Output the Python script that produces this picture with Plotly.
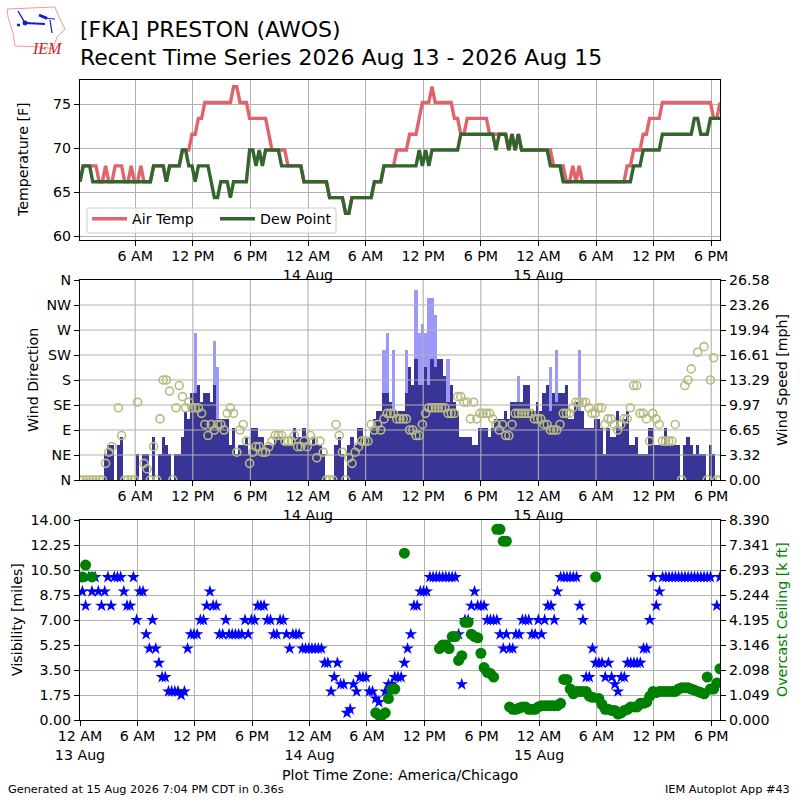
#!/usr/bin/env python3
"""IEM autoplot 43: recent time series for FKA."""

import pandas as pd
import plotly.graph_objects as go

N = None

# 20 minute AWOS observations, 13 Aug 00:15 to 15 Aug 18:55
times = pd.date_range("2026-08-13 00:15", periods=201, freq="20min")

air_temp = [
    66.2, 68, 68, 68, 68, 68, 66.2, 66.2, 68, 66.2,
    66.2, 68, 68, 68, 66.2, 66.2, 68, 66.2, 66.2, 68,
    66.2, 66.2, 66.2, 68, 68, 68, 68, 66.2, 68, 68,
    68, 68, 69.8, 69.8, 69.8, 71.6, 71.6, 73.4, 73.4, 75.2,
    75.2, 75.2, 75.2, 75.2, 75.2, 75.2, 75.2, 75.2, 77, 77,
    75.2, 75.2, 75.2, 73.4, 73.4, 73.4, 73.4, 73.4, 73.4, 71.6,
    69.8, 69.8, 69.8, 69.8, 69.8, 68, 68, 68, 68, 68,
    66.2, 66.2, 66.2, 66.2, 66.2, 66.2, 66.2, 66.2, 64.4, 64.4,
    64.4, 64.4, 64.4, 62.6, 62.6, 64.4, 64.4, 64.4, 64.4, 64.4,
    64.4, 64.4, 66.2, 66.2, 66.2, 68, 68, 68, 68, 69.8,
    69.8, 69.8, 69.8, 71.6, 71.6, 71.6, 73.4, 75.2, 75.2, 75.2,
    77, 75.2, 75.2, 75.2, 75.2, 75.2, 75.2, 73.4, 73.4, 71.6,
    71.6, 73.4, 73.4, 73.4, 73.4, 73.4, 73.4, 73.4, 71.6, 71.6,
    71.6, 71.6, 71.6, 71.6, 69.8, 71.6, 69.8, 71.6, 69.8, 69.8,
    69.8, 69.8, 69.8, 69.8, 69.8, 69.8, 69.8, 69.8, 68, 68,
    68, 68, 66.2, 66.2, 68, 66.2, 68, 66.2, 66.2, 66.2,
    66.2, 66.2, 66.2, 66.2, 66.2, 66.2, 66.2, 66.2, 66.2, 66.2,
    66.2, 68, 68, 69.8, 69.8, 69.8, 71.6, 71.6, 73.4, 73.4,
    73.4, 73.4, 75.2, 75.2, 75.2, 75.2, 75.2, 75.2, 75.2, 75.2,
    75.2, 75.2, 75.2, 75.2, 75.2, 75.2, 75.2, 75.2, 73.4, 73.4,
    75.2,
]
dew_point = [
    66.2, 68, 68, 68, 66.2, 66.2, 66.2, 66.2, 66.2, 66.2,
    66.2, 66.2, 66.2, 66.2, 66.2, 66.2, 66.2, 66.2, 66.2, 66.2,
    66.2, 66.2, 66.2, 68, 68, 68, 68, 66.2, 68, 68,
    68, 68, 69.8, 69.8, 68, 68, 66.2, 68, 68, 68,
    68, 66.2, 64.4, 64.4, 66.2, 66.2, 66.2, 64.4, 66.2, 66.2,
    66.2, 66.2, 66.2, 69.8, 69.8, 68, 69.8, 68, 69.8, 69.8,
    69.8, 69.8, 69.8, 68, 68, 68, 68, 68, 68, 68,
    66.2, 66.2, 66.2, 66.2, 66.2, 66.2, 66.2, 66.2, 64.4, 64.4,
    64.4, 64.4, 64.4, 62.6, 62.6, 64.4, 64.4, 64.4, 64.4, 64.4,
    64.4, 64.4, 66.2, 66.2, 66.2, 68, 68, 68, 68, 68,
    68, 68, 68, 68, 68, 68, 69.8, 68, 69.8, 68,
    69.8, 69.8, 69.8, 69.8, 69.8, 69.8, 69.8, 69.8, 69.8, 71.6,
    71.6, 71.6, 71.6, 71.6, 71.6, 71.6, 71.6, 71.6, 71.6, 71.6,
    69.8, 71.6, 71.6, 71.6, 69.8, 71.6, 69.8, 71.6, 69.8, 69.8,
    69.8, 69.8, 69.8, 69.8, 69.8, 69.8, 69.8, 68, 68, 68,
    68, 66.2, 66.2, 66.2, 66.2, 66.2, 66.2, 66.2, 66.2, 66.2,
    66.2, 66.2, 66.2, 66.2, 66.2, 66.2, 66.2, 66.2, 66.2, 66.2,
    66.2, 66.2, 66.2, 68, 68, 68, 69.8, 69.8, 69.8, 69.8,
    69.8, 69.8, 71.6, 71.6, 71.6, 71.6, 71.6, 71.6, 71.6, 71.6,
    71.6, 71.6, 73.4, 73.4, 71.6, 71.6, 71.6, 73.4, 73.4, 73.4,
    73.4,
]
# knots
wind_speed = [
    0, 0, 0, 0, 0, 0, 0, 0, 3, 4,
    4, 0, 4, 5, 0, 0, 0, 0, 3, 0,
    3, 3, 0, 5, 0, 3, 5, 4, 3, 0,
    3, 3, 5, 8, 7, 10, 10, 11, 9, 10,
    10, 9, 11, 7, 7, 7, 7, 4, 6, 3,
    4, 4, 5, 3, 6, 6, 5, 5, 4, 4,
    4, 5, 5, 5, 4, 4, 4, 6, 5, 5,
    6, 5, 4, 5, 4, 4, 3, 0, 0, 0,
    4, 5, 3, 0, 4, 5, 4, 6, 6, 4,
    5, 6, 7, 8, 8, 10, 10, 9, 8, 8,
    8, 8, 10, 13, 11, 14, 11, 11, 13, 11,
    14, 13, 14, 14, 12, 9, 11, 9, 8, 5,
    5, 5, 5, 4, 4, 6, 6, 6, 5, 6,
    7, 7, 7, 8, 7, 9, 9, 9, 9, 11,
    11, 8, 8, 9, 8, 10, 11, 8, 10, 9,
    10, 10, 11, 7, 7, 9, 8, 8, 6, 6,
    6, 7, 7, 6, 3, 6, 5, 5, 8, 6,
    7, 8, 4, 4, 5, 3, 3, 3, 6, 6,
    4, 4, 4, 6, 4, 4, 4, 4, 0, 4,
    5, 4, 3, 4, 3, 3, 0, 4, 3, 0,
    0,
]
wind_gust = [
    0, 0, 0, 0, 0, 0, 0, 0, 0, 0,
    0, 0, 0, 0, 0, 0, 0, 0, 0, 0,
    0, 0, 0, 0, 0, 0, 0, 0, 0, 0,
    0, 0, 0, 0, 0, 0, 17, 0, 0, 0,
    0, 0, 16, 13, 0, 0, 0, 0, 0, 0,
    0, 0, 0, 0, 0, 0, 0, 0, 0, 0,
    0, 0, 0, 0, 0, 0, 0, 0, 0, 0,
    0, 0, 0, 0, 0, 0, 0, 0, 0, 0,
    0, 0, 0, 0, 0, 0, 0, 0, 0, 0,
    0, 0, 0, 0, 0, 15, 17, 0, 15, 0,
    0, 0, 15, 0, 0, 22, 17, 18, 17, 21,
    21, 19, 0, 0, 0, 14, 0, 0, 0, 0,
    0, 0, 0, 0, 0, 0, 0, 0, 0, 0,
    0, 0, 0, 0, 0, 0, 0, 12, 0, 0,
    0, 0, 0, 0, 0, 0, 0, 13, 0, 15,
    0, 0, 0, 0, 0, 0, 15, 0, 0, 0,
    0, 0, 0, 0, 0, 0, 0, 0, 0, 0,
    0, 0, 0, 0, 0, 0, 0, 0, 0, 0,
    0, 0, 0, 0, 0, 0, 0, 0, 0, 0,
    0, 0, 0, 0, 0, 0, 0, 0, 0, 0,
    0,
]
wind_dir = [
    0, 0, 0, 0, 0, 0, 0, 0, 30, 50,
    60, N, 130, 80, 0, 0, 0, 0, 140, N,
    30, 20, 0, 60, 0, 110, 180, 180, 160, 0,
    130, 170, 150, 130, 140, 130, 130, 130, 120, 100,
    80, 100, 90, 100, 100, 90, 120, 130, 120, 50,
    90, 100, 70, 30, 50, 60, 60, 50, 50, 60,
    70, 80, 80, 80, 70, 70, 70, 80, 60, 60,
    70, 60, 80, 70, 40, 70, 50, 0, 0, 0,
    100, 80, 50, 0, 40, 30, 50, 60, 70, 70,
    70, 100, 90, 100, 90, 110, 120, 120, 120, 110,
    110, 110, 110, 90, 90, 80, 80, 100, 120, 130,
    130, 130, 130, 130, 130, 120, 120, 120, 150, 150,
    140, 140, 110, 140, 110, 120, 120, 120, 120, 110,
    100, 90, 100, 80, 80, 100, 120, 120, 120, 120,
    120, 120, 110, 110, 110, 100, 100, 90, 90, 90,
    100, 120, 120, 120, 130, 140, 140, 140, 140, 130,
    120, 120, 130, 130, 100, 110, 110, 100, 90, 100,
    110, 110, 130, 170, 170, 120, 120, 110, 70, 120,
    110, 100, 70, 70, 70, 70, 100, N, 0, 170,
    180, 200, N, 230, N, 240, 0, 180, 220, 0,
    0,
]
visibility = [
    9, 8, 10, 9, 10, 9, 8, 9, 10, 8,
    10, 10, 10, 9, 8, 8, 10, 7, 9, 9,
    6, 5, 7, 5, 4, 3, 3, 2, 2, 2,
    2, 1.75, 2, 5, 6, 6, 6, 7, 7, 8,
    9, 8, 8, 6, 6, 7, 6, 6, 6, 6,
    6, 7, 6, 7, 7, 8, 8, 8, 7, 7,
    6, 6, 7, 7, 6, 5, 6, 6, 6, 5,
    5, 5, 5, 5, 5, 5, 4, 4, 2, 3,
    4, 2.5, 2.5, 0.5, 0.75, 2.5, 2, 3, 3, 3,
    2, 2, 1.5, 1.25, N, 2, 2.5, 2.5, 3, 3,
    3, 4, 5, 6, 8, 8, 9, 9, 9, 10,
    10, 10, 10, 10, 10, 10, 10, 10, 6, 2.5,
    7, 7, 8, 9, 8, 8, 8, 7, 7, 7,
    7, 6, 5, 6, 5, 5, 6, 6, 7, 7,
    7, 6, 6, 7, 6, 7, 8, 8, 7, 9,
    10, 10, 10, 10, 10, 10, 8, 7, 3, 3,
    5, 4, 4, 4, 3, 4, 3, 2.5, 2, 3,
    3, 4, 4, 4, 4, 4, 5, 5, 7, 10,
    8, 9, 10, 10, 10, 10, 10, 10, 10, 10,
    10, 10, 10, 10, 10, 10, 10, 10, N, 8,
    10,
]
ceiling = [
    6.0, 6.5, N, 6.0, N, N, N, N, N, N,
    N, N, N, N, N, N, N, N, N, N,
    N, N, N, N, N, N, N, N, N, N,
    N, N, N, N, N, N, N, N, N, N,
    N, N, N, N, N, N, N, N, N, N,
    N, N, N, N, N, N, N, N, N, N,
    N, N, N, N, N, N, N, N, N, N,
    N, N, N, N, N, N, N, N, N, N,
    N, N, N, N, N, N, N, N, N, N,
    N, N, 0.3, 0.2, 0.2, 0.3, 0.9, 1.3, 1.3, N,
    N, 7.0, N, N, N, N, N, N, N, N,
    N, N, 3.0, 3.15, 3.15, 3.0, 3.5, 3.5, 2.5, 2.7,
    4.1, 4.1, 3.6, 3.5, 3.45, 2.8, 2.2, 2.0, 1.95, 1.8,
    8.0, 8.0, 7.5, 7.5, 0.55, 0.45, 0.45, 0.5, 0.55, 0.55,
    0.45, 0.45, 0.45, 0.55, 0.6, 0.6, 0.6, 0.6, 0.6, 0.6,
    0.7, 1.7, 1.7, 1.3, 1.1, 1.2, 1.2, 1.2, 1.2, 1.0,
    0.95, 6.0, 0.9, 0.65, 0.45, 0.45, 0.4, 0.4, 0.25, 0.3,
    0.4, 0.45, 0.55, 0.55, 0.55, 0.7, 0.7, 0.75, 1.0, 1.2,
    1.15, 1.2, 1.2, 1.2, 1.2, 1.2, 1.2, 1.3, 1.35, 1.35,
    1.35, 1.3, 1.25, 1.2, 1.15, 1.1, 1.8, 1.3, 1.3, 1.55,
    2.15,
]

time_ticks = [
    "2026-08-13 06:00", "2026-08-13 12:00", "2026-08-13 18:00",
    "2026-08-14 00:00", "2026-08-14 06:00", "2026-08-14 12:00", "2026-08-14 18:00",
    "2026-08-15 00:00", "2026-08-15 06:00", "2026-08-15 12:00", "2026-08-15 18:00",
]
time_labels = [
    "6 AM", "12 PM", "6 PM", "12 AM<br>14 Aug", "6 AM", "12 PM", "6 PM",
    "12 AM<br>15 Aug", "6 AM", "12 PM", "6 PM",
]
temp_ticks = [60, 65, 70, 75]
dir_ticks = [0, 45, 90, 135, 180, 225, 270, 315, 360]
dir_labels = ["N", "NE", "E", "SE", "S", "SW", "W", "NW", "N"]
speed_ticks = [0, 3.3225, 6.645, 9.9675, 13.29, 16.6125, 19.935, 23.2575, 26.58]
speed_labels = ["0.00", "3.32", "6.65", "9.97", "13.29", "16.61", "19.94", "23.26", "26.58"]
vis_ticks = [0, 1.75, 3.5, 5.25, 7, 8.75, 10.5, 12.25, 14]
vis_labels = ["0.00", "1.75", "3.50", "5.25", "7.00", "8.75", "10.50", "12.25", "14.00"]
ceil_ticks = [0, 1.04875, 2.0975, 3.14625, 4.195, 5.24375, 6.2925, 7.34125, 8.39]
ceil_labels = ["0.000", "1.049", "2.098", "3.146", "4.195", "5.244", "6.293", "7.341", "8.390"]

FONT = "DejaVu Sans"
GRID = "#b0b0b0"
TICK_SIZE = 14.2

speed_mph = [v * 1.15078 for v in wind_speed]
gust_mph = [v * 1.15078 for v in wind_gust]

fig = go.Figure()

# top panel
fig.add_trace(go.Scatter(x=times, y=air_temp, mode="lines", name="Air Temp",
                         line=dict(color="#e0646c", width=3.4), xaxis="x", yaxis="y"))
fig.add_trace(go.Scatter(x=times, y=dew_point, mode="lines", name="Dew Point",
                         line=dict(color="#33652f", width=3.4), xaxis="x", yaxis="y"))

# middle panel, speed is the base axis so the direction circles land on top
fig.add_trace(go.Bar(x=times, y=gust_mph, width=1200000, marker=dict(color="#9a98fb", line_width=0),
                     showlegend=False, xaxis="x2", yaxis="y2"))
fig.add_trace(go.Bar(x=times, y=speed_mph, width=1200000, marker=dict(color="#383597", line_width=0),
                     showlegend=False, xaxis="x2", yaxis="y2"))

# grid has to sit over the bars but under the circles
grid_x, grid_y = [], []
for t in time_ticks:
    grid_x += [t, t, None]
    grid_y += [0, 360, None]
for d in dir_ticks[1:-1]:
    grid_x += [times[0], times[-1], None]
    grid_y += [d, d, None]
fig.add_trace(go.Scatter(x=grid_x, y=grid_y, mode="lines", line=dict(color=GRID, width=1.1),
                         hoverinfo="skip", showlegend=False, xaxis="x2", yaxis="y3"))
fig.add_trace(go.Scatter(x=times, y=wind_dir, mode="markers", showlegend=False, xaxis="x2", yaxis="y3",
                         marker=dict(symbol="circle-open", size=8, color="#b9ba80",
                                     line=dict(width=1.6, color="#b9ba80"))))

# bottom panel
fig.add_trace(go.Scatter(x=times, y=visibility, mode="markers", showlegend=False, xaxis="x3", yaxis="y4",
                         marker=dict(symbol="star", size=9.5, color="#0000ff", line_width=0)))
fig.add_trace(go.Scatter(x=times, y=ceiling, mode="markers", showlegend=False, xaxis="x3", yaxis="y5",
                         marker=dict(symbol="circle", size=11, color="#008000", line_width=0)))


def x_axis(anchor, ticks, labels, rng, grid=True):
    return dict(domain=[0.1, 0.9], anchor=anchor, range=rng, type="date", tickmode="array",
                tickvals=ticks, ticktext=labels, ticks="outside", ticklen=5, tickwidth=1.1,
                tickcolor="black", tickangle=0, ticklabelstandoff=-2, showgrid=grid, gridcolor=GRID,
                gridwidth=1.1, showline=True, linecolor="black", linewidth=1.1, mirror=True,
                zeroline=False, tickfont=dict(size=TICK_SIZE))


def y_axis(domain, ticks, labels, rng, side="left", grid=True, anchor="x", overlaying=None):
    axis = dict(domain=domain, anchor=anchor, range=rng, side=side, tickmode="array", tickvals=ticks,
                ticktext=labels, ticks="outside", ticklen=5, tickwidth=1.1, tickcolor="black",
                showgrid=grid, gridcolor=GRID, gridwidth=1.1, zeroline=False, showline=True,
                linecolor="black", linewidth=1.1, mirror=True, tickfont=dict(size=TICK_SIZE))
    if overlaying:
        axis["overlaying"] = overlaying
    return axis


def text(label, x, y, size=TICK_SIZE, angle=0, color="black", xanchor="center"):
    return dict(text=label, x=x / 800, y=1 - y / 800, xref="paper", yref="paper", showarrow=False,
                font=dict(size=size, color=color, family=FONT), textangle=angle,
                xanchor=xanchor, yanchor="middle")


def px(x, y):
    return f"{x / 800:.5f}", f"{1 - y / 800:.5f}"


def logo_path(points):
    parts = [f"{px(*p)[0]},{px(*p)[1]}" for p in points]
    return "M" + " L".join(parts)


iowa = [(7, 9), (55, 7), (58, 15), (65, 29), (57, 37), (53, 49), (43, 47), (15, 46), (13, 33), (8, 17), (7, 9)]
logo_shapes = [
    dict(type="path", path=logo_path(iowa) + " Z", xref="paper", yref="paper",
         line=dict(color="#f09a9a", width=1), fillcolor="white"),
]
for pts, w in [([(18, 11), (25, 23)], 1.4), ([(25, 23), (45, 24)], 2), ([(39, 15), (47, 18.5)], 3),
               ([(47, 18.5), (55, 19)], 1.2), ([(50, 20), (52, 33)], 1.2), ([(17, 25), (20, 25)], 2.5)]:
    logo_shapes.append(dict(type="path", path=logo_path(pts), xref="paper", yref="paper",
                            line=dict(color="#1a1acc", width=w)))
x0, y0 = px(22.5, 20.5)
x1, y1 = px(27.5, 25.5)
logo_shapes.append(dict(type="circle", x0=x0, y0=y0, x1=x1, y1=y1, xref="paper", yref="paper",
                        fillcolor="#1a1acc", line_width=0))

# legend frame drawn by hand, plotly's own box comes out too tall
legend_frame = "M{0},{1} L{2},{1} Q{3},{1} {3},{4} L{3},{5} Q{3},{6} {2},{6} L{0},{6} Q{7},{6} {7},{5} L{7},{4} Q{7},{1} {0},{1} Z".format(
    px(89, 0)[0], px(0, 208)[1], px(334, 0)[0], px(336, 0)[0], px(0, 210)[1], px(0, 231)[1], px(0, 233)[1], px(87, 0)[0])
logo_shapes.append(dict(type="path", path=legend_frame, xref="paper", yref="paper", layer="above",
                        line=dict(color="#cccccc", width=1), fillcolor="rgba(255,255,255,0.8)"))

fig.update_layout(
    width=800,
    height=800,
    margin=dict(l=0, r=0, t=0, b=0, autoexpand=False),
    paper_bgcolor="white",
    plot_bgcolor="white",
    font=dict(family=FONT, size=TICK_SIZE, color="black"),
    barmode="overlay",
    bargap=0,
    hovermode=False,
    xaxis=x_axis("y", time_ticks, time_labels, ["2026-08-13 00:15", "2026-08-15 18:55"]),
    yaxis=y_axis([0.7, 0.9], temp_ticks, [str(v) for v in temp_ticks], [59.58, 77.76]),
    xaxis2=x_axis("y2", time_ticks, time_labels, ["2026-08-13 00:15", "2026-08-15 18:55"], grid=False),
    yaxis2=y_axis([0.4, 0.65], speed_ticks, speed_labels, [0, 26.58], side="right", grid=False, anchor="x2"),
    yaxis3=y_axis([0.4, 0.65], dir_ticks, dir_labels, [0, 360], grid=False, anchor="x2", overlaying="y2"),
    xaxis3=x_axis("y4", ["2026-08-13 00:00"] + time_ticks, ["12 AM<br>13 Aug"] + time_labels,
                  ["2026-08-13 00:00", "2026-08-15 18:55"]),
    yaxis4=y_axis([0.1, 0.35], vis_ticks, vis_labels, [0, 14], anchor="x3"),
    yaxis5=y_axis([0.1, 0.35], ceil_ticks, ceil_labels, [0, 8.39], side="right", grid=False, anchor="x3",
                  overlaying="y4"),
    legend=dict(orientation="h", x=87 / 800, y=1 - 203 / 800, xanchor="left", yanchor="top",
                bgcolor="rgba(0,0,0,0)", borderwidth=0,
                font=dict(size=TICK_SIZE), itemwidth=35, entrywidth=78),
    shapes=logo_shapes,
    annotations=[
        text("[FKA] PRESTON (AWOS)", 78, 29, size=22, xanchor="left"),
        text("Recent Time Series 2026 Aug 13 - 2026 Aug 15", 78, 57, size=22, xanchor="left"),
        text("Temperature [F]", 23, 160, angle=-90),
        text("Wind Direction", 33, 380, angle=-90),
        text("Wind Speed [mph]", 782, 380, angle=-90),
        text("Visibility [miles]", 17, 620, angle=-90),
        text("Overcast Ceiling [k ft]", 782, 620, angle=-90, color="#008000"),
        text("Plot Time Zone: America/Chicago", 400, 775),
        text("Generated at 15 Aug 2026 7:04 PM CDT in 0.36s", 6, 789, size=11.3, xanchor="left"),
        text("IEM Autoplot App #43", 792, 789, size=11.3, xanchor="right"),
        dict(text="<i>IEM</i>", x=30 / 800, y=1 - 38 / 800, xref="paper", yref="paper", showarrow=False,
             font=dict(size=16, color="#cc2222", family="Liberation Serif")),
    ],
)

# the page's default body margin would push everything 8 px off
fig.write_html("out.html", post_script="document.body.style.margin = '0';",
               config=dict(displayModeBar=False))
